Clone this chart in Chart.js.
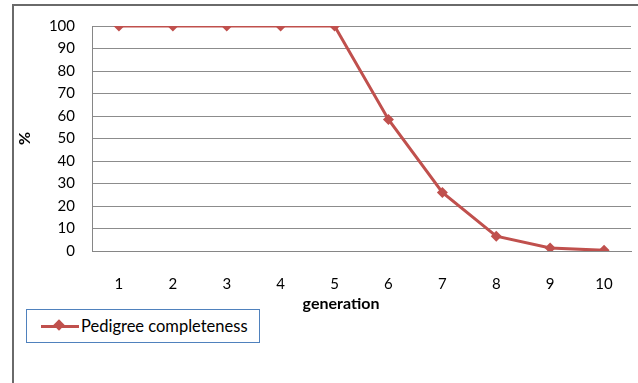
<!DOCTYPE html>
<html>
<head>
<meta charset="utf-8">
<script src="https://cdn.jsdelivr.net/npm/chart.js@4/dist/chart.umd.min.js"></script>
<style>
  html, body { margin: 0; padding: 0; background: #fff; }
  #wrap { position: relative; width: 638px; height: 383px; overflow: hidden; }
  #frame { position: absolute; left: 12px; top: 4px; width: 700px; height: 500px;
           border: 2px solid #6a6a6a; box-sizing: border-box; }
  #c { position: absolute; left: 0; top: 0; }
  #legend { position: absolute; left: 26px; top: 309px; width: 234px; height: 34px;
            border: 1px solid #4f81bd; box-sizing: border-box; background: #fff;
            font-family: Lato, "Open Sans", sans-serif; font-size: 16.5px; color: #000;
            display: flex; align-items: center; white-space: nowrap; }
  #legend .sym { position: relative; width: 38px; height: 14px; margin-left: 14px; margin-right: 2px; flex: none; }
  #legend .sym .ln { position: absolute; left: 0; right: 0; top: 6px; height: 3px; }
  #legend .sym .dm { position: absolute; left: 14px; top: 2px; width: 8px; height: 8px; transform: rotate(45deg); }
</style>
</head>
<body>
<div id="wrap">
  <div id="frame"></div>
  <canvas id="c" width="638" height="383"></canvas>
  <div id="legend"></div>
</div>
<script>
const categories = ['1','2','3','4','5','6','7','8','9','10'];
const completeness = [100, 100, 100, 100, 100, 58.5, 26, 6.6, 1.3, 0.3];
const yTicks = [0,10,20,30,40,50,60,70,80,90,100];
const seriesName = 'Pedigree completeness';
const xTitle = 'generation';
const yTitle = '%';
const lineColor = '#c0504d';
const FONT = 'Lato, "Open Sans", sans-serif';

// x-axis title drawn slightly left of the plot centre, as in the reference
const xTitlePlugin = {
  id: 'xTitle',
  afterDraw(chart) {
    const ctx = chart.ctx;
    ctx.save();
    ctx.font = 'bold 16px ' + FONT;
    ctx.fillStyle = '#000';
    ctx.textAlign = 'center';
    ctx.textBaseline = 'middle';
    ctx.fillText(xTitle, 341, 304);
    ctx.restore();
  }
};

const chart = new Chart(document.getElementById('c'), {
  type: 'line',
  data: {
    labels: categories,
    datasets: [{
      label: seriesName,
      data: completeness,
      borderColor: lineColor,
      backgroundColor: lineColor,
      borderWidth: 3,
      pointStyle: 'rectRot',
      pointRadius: 5.5,
      pointHoverRadius: 5.5,
      pointBackgroundColor: lineColor,
      pointBorderColor: lineColor,
      pointBorderWidth: 0,
      tension: 0,
      fill: false
    }]
  },
  plugins: [xTitlePlugin],
  options: {
    responsive: false,
    animation: false,
    devicePixelRatio: 1,
    layout: { padding: { left: 0, top: 25, right: 7, bottom: 0 } },
    plugins: { legend: { display: false }, tooltip: { enabled: false } },
    scales: {
      x: {
        offset: true,
        grid: { display: false, drawTicks: false },
        border: { display: true, color: '#868686', width: 1 },
        ticks: { color: '#000', padding: 24, font: { family: FONT, size: 15 }, maxRotation: 0 },
        title: { display: false },
        afterFit: s => { s.height = 132; }
      },
      y: {
        min: 0, max: 100,
        afterBuildTicks: s => { s.ticks = yTicks.map(v => ({ value: v })); },
        grid: { color: '#8c8c8c', lineWidth: 1, drawTicks: false },
        border: { display: true, color: '#868686', width: 1 },
        ticks: { color: '#000', padding: 17, font: { family: FONT, size: 15 } },
        title: { display: true, text: yTitle, color: '#000',
                 font: { family: FONT, size: 16, weight: 'bold' }, padding: { top: 15, bottom: 0 } },
        afterFit: s => { s.width = 92; }
      }
    }
  }
});

// HTML legend built from the chart's dataset
const lg = document.getElementById('legend');
chart.data.datasets.forEach(ds => {
  const sym = document.createElement('span');
  sym.className = 'sym';
  sym.innerHTML = '<span class="ln" style="background:' + ds.borderColor + '"></span>' +
                  '<span class="dm" style="background:' + ds.borderColor + '"></span>';
  const txt = document.createElement('span');
  txt.textContent = ds.label;
  lg.appendChild(sym);
  lg.appendChild(txt);
});
</script>
</body>
</html>
